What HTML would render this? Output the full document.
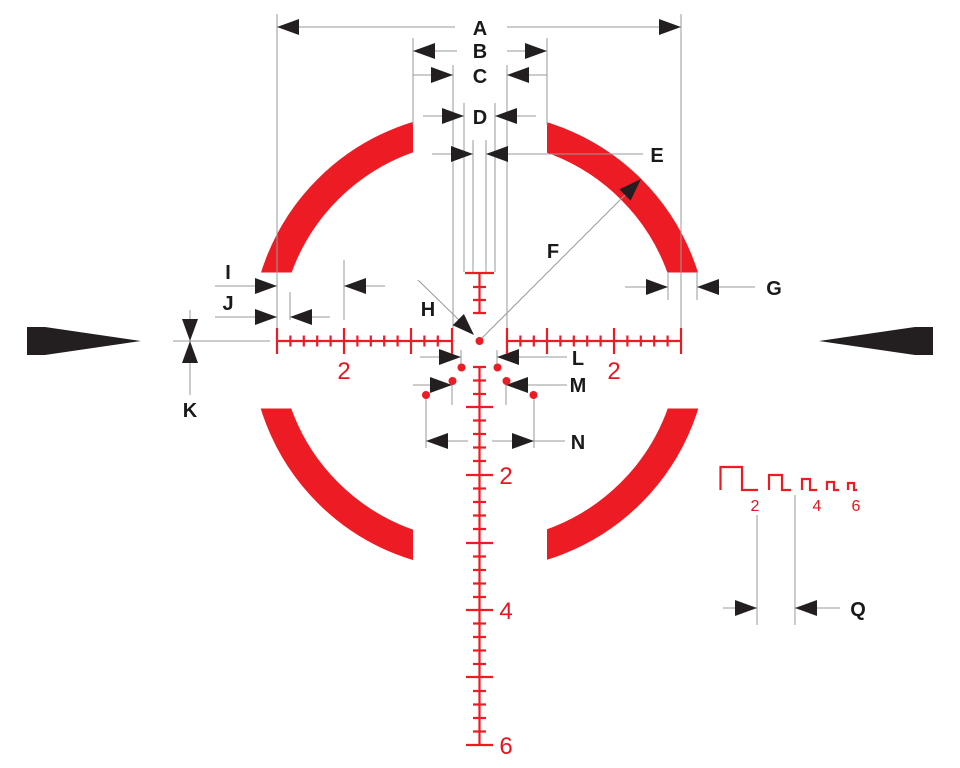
<!DOCTYPE html>
<html><head><meta charset="utf-8"><style>
html,body{margin:0;padding:0;background:#fff;}
svg{display:block;}
.t{font-family:"Liberation Sans",sans-serif;font-weight:bold;font-size:20px;fill:#1a1a1a;}
.r{font-family:"Liberation Sans",sans-serif;font-size:24px;fill:#e8141e;}
.rs{font-family:"Liberation Sans",sans-serif;font-size:16px;fill:#e8141e;}
</style></head><body>
<svg width="960" height="768" viewBox="0 0 960 768" xmlns="http://www.w3.org/2000/svg">
<circle cx="479.5" cy="341" r="214.5" fill="none" stroke="#ed1c24" stroke-width="29"/>
<rect x="413" y="0" width="134" height="768" fill="#fff"/>
<rect x="0" y="272.5" width="960" height="136" fill="#fff"/>

<polygon points="27,327 45,327 141,341 45,355 27,355" fill="#231f20"/>
<polygon points="933,327 915,327 819,341 915,355 933,355" fill="#231f20"/>

<g stroke="#9a9a9a" stroke-width="1" fill="none">
<line x1="277" y1="14" x2="277" y2="330"/><line x1="681" y1="14" x2="681" y2="330"/>
<line x1="277" y1="27" x2="455" y2="27"/><line x1="507" y1="27" x2="681" y2="27"/>
<line x1="413" y1="38" x2="413" y2="125"/><line x1="547" y1="38" x2="547" y2="125"/>
<line x1="413" y1="51" x2="457" y2="51"/><line x1="507" y1="51" x2="547" y2="51"/>
<line x1="413" y1="75" x2="453" y2="75"/><line x1="507" y1="75" x2="547" y2="75"/>
<line x1="453" y1="65" x2="453" y2="328"/><line x1="507" y1="65" x2="507" y2="328"/>
<line x1="423" y1="116" x2="464" y2="116"/><line x1="495" y1="116" x2="536" y2="116"/>
<line x1="464" y1="103" x2="464" y2="272"/><line x1="495" y1="103" x2="495" y2="272"/>
<line x1="432" y1="154" x2="473" y2="154"/><line x1="486" y1="154" x2="643" y2="154"/>
<line x1="473" y1="140" x2="473" y2="272"/><line x1="486" y1="140" x2="486" y2="272"/>
<line x1="479" y1="341" x2="628" y2="192"/>
<line x1="418" y1="280" x2="460" y2="321"/>
<line x1="625" y1="287" x2="668" y2="287"/><line x1="697" y1="287" x2="755" y2="287"/>
<line x1="668" y1="272" x2="668" y2="300"/><line x1="697" y1="272" x2="697" y2="300"/>
<line x1="215" y1="286" x2="277" y2="286"/>
<line x1="215" y1="317" x2="277" y2="317"/>
<line x1="290" y1="317" x2="330" y2="317"/><line x1="290" y1="292" x2="290" y2="320"/>
<line x1="344" y1="286" x2="385" y2="286"/><line x1="344" y1="260" x2="344" y2="320"/>
<line x1="173" y1="341" x2="270" y2="341"/>
<line x1="190" y1="310" x2="190" y2="395"/>
<line x1="420" y1="357" x2="461" y2="357"/><line x1="497" y1="357" x2="567" y2="357"/>
<line x1="461" y1="350" x2="461" y2="364"/><line x1="497" y1="350" x2="497" y2="364"/>
<line x1="413" y1="385" x2="452" y2="385"/><line x1="506" y1="385" x2="567" y2="385"/>
<line x1="452" y1="381" x2="452" y2="405"/><line x1="506" y1="381" x2="506" y2="405"/>
<line x1="426" y1="441" x2="468" y2="441"/><line x1="492" y1="441" x2="565" y2="441"/>
<line x1="426" y1="398" x2="426" y2="448"/><line x1="534" y1="398" x2="534" y2="448"/>
<line x1="723" y1="608" x2="757" y2="608"/><line x1="795" y1="608" x2="840" y2="608"/>
<line x1="757" y1="515" x2="757" y2="625"/><line x1="795" y1="495" x2="795" y2="625"/>
</g>

<g fill="#231f20">
<polygon points="277,27 299,19 299,35"/><polygon points="681,27 659,19 659,35"/>
<polygon points="413,51 435,43 435,59"/><polygon points="547,51 525,43 525,59"/>
<polygon points="453,75 431,67 431,83"/><polygon points="507,75 529,67 529,83"/>
<polygon points="464,116 442,108 442,124"/><polygon points="495,116 517,108 517,124"/>
<polygon points="473,154 451,146 451,162"/><polygon points="486,154 508,146 508,162"/>
<polygon points="641,179 630.6,200.6 619.4,189.4"/>
<polygon points="474,335 452.7,325.3 463.9,314"/>
<polygon points="668,287 646,279 646,295"/><polygon points="697,287 719,279 719,295"/>
<polygon points="277,286 255,278 255,294"/>
<polygon points="277,317 255,309 255,325"/><polygon points="290,317 312,309 312,325"/>
<polygon points="344,286 366,278 366,294"/>
<polygon points="190,341 182,319 198,319"/><polygon points="190,341 182,363 198,363"/>
<polygon points="461,357 439,349 439,365"/><polygon points="497,357 519,349 519,365"/>
<polygon points="452,385 430,377 430,393"/><polygon points="506,385 528,377 528,393"/>
<polygon points="426,441 448,433 448,449"/><polygon points="534,441 512,433 512,449"/>
<polygon points="757,608 735,600 735,616"/><polygon points="795,608 817,600 817,616"/>
</g>

<g class="t" text-anchor="middle">
<text x="480" y="35">A</text><text x="480" y="58">B</text><text x="480" y="83">C</text>
<text x="480" y="124">D</text><text x="657" y="162">E</text><text x="553" y="258">F</text>
<text x="774" y="295">G</text><text x="428" y="316">H</text><text x="228" y="279">I</text>
<text x="228" y="310">J</text><text x="190" y="417">K</text><text x="578" y="365">L</text>
<text x="578" y="392">M</text><text x="578" y="449">N</text><text x="858" y="616">Q</text>
</g>

<g stroke="#ed1c24" stroke-width="2.2" fill="none">
<line x1="277" y1="341" x2="452" y2="341"/>
<line x1="507" y1="341" x2="681" y2="341"/>
<path d="M277,328V354M344,328V354M411,328V354M452,328V354M507,328V354M547,328V354M614,328V354M681,328V354"/>
<path d="M290.4,335.5V346.5M303.8,335.5V346.5M317.2,335.5V346.5M330.6,335.5V346.5M357.4,335.5V346.5M370.8,335.5V346.5M384.2,335.5V346.5M397.6,335.5V346.5M424.4,335.5V346.5M437.8,335.5V346.5M520.4,335.5V346.5M533.8,335.5V346.5M560.4,335.5V346.5M573.8,335.5V346.5M587.2,335.5V346.5M600.6,335.5V346.5M627.4,335.5V346.5M640.8,335.5V346.5M654.2,335.5V346.5M667.6,335.5V346.5"/>
<line x1="479.5" y1="273" x2="479.5" y2="313"/>
<path d="M465,273H494M473,287H486M473,300H486M473,313H486"/>
<line x1="479.5" y1="367" x2="479.5" y2="745"/>
<path d="M466,407H493M466,475H493M466,543H493M466,610H493M466,677H493M466,745H493"/>
<path d="M473,367H486M473,380.5H486M473,394H486M473,420.5H486M473,434H486M473,447.5H486M473,461H486M473,488.5H486M473,502H486M473,515.5H486M473,529H486M473,556.5H486M473,570H486M473,583.5H486M473,597H486M473,623.5H486M473,637H486M473,650.5H486M473,664H486M473,691H486M473,704.5H486M473,718H486M473,731.5H486"/>
<path d="M720.5,490V467H742V490H758"/>
<path d="M769,490V475H782V490H791"/>
<path d="M802,490V479H810V490H817"/>
<path d="M827,490V482H834V490H839"/>
<path d="M848,490V483H854V490H857"/>
</g>
<g fill="#ed1c24">
<circle cx="479.5" cy="341" r="4"/>
<circle cx="461.5" cy="367.5" r="4"/><circle cx="497.5" cy="367.5" r="4"/>
<circle cx="452.5" cy="381" r="4"/><circle cx="506.5" cy="381" r="4"/>
<circle cx="426" cy="395" r="4"/><circle cx="533.5" cy="395" r="4"/>
</g>
<g class="r" text-anchor="middle">
<text x="344" y="379">2</text><text x="614" y="379">2</text>
<text x="506" y="484">2</text><text x="506" y="619">4</text><text x="506" y="754">6</text>
</g>
<g class="rs" text-anchor="middle">
<text x="755" y="511">2</text><text x="817" y="511">4</text><text x="856" y="511">6</text>
</g>
</svg>
</body></html>
